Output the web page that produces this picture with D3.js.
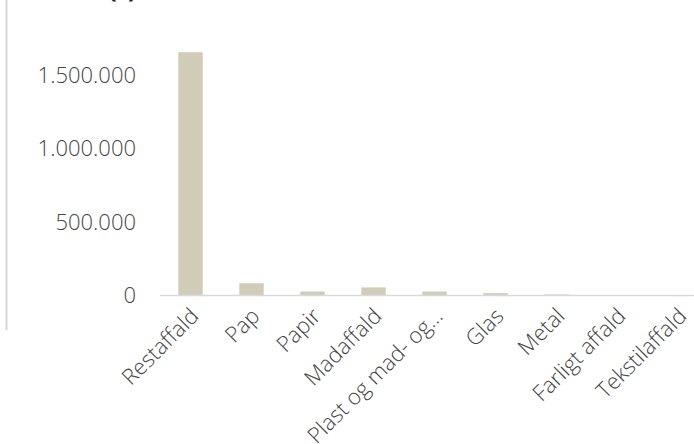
<!DOCTYPE html>
<html>
<head>
<meta charset="utf-8">
<script src="https://cdn.jsdelivr.net/npm/d3@7"></script>
<style>
  body { margin: 0; background: #fff; }
  svg { display: block; }
</style>
</head>
<body>
<div id="container"></div>
<script>
// Data
const categories = ["Restaffald", "Pap", "Papir", "Madaffald", "Plast og mad- og...", "Glas", "Metal", "Farligt affald", "Tekstilaffald"];
const values = [1655000, 83000, 27000, 55000, 27000, 16000, 7000, 1000, 1000];
const yTicks = [0, 500000, 1000000, 1500000];

const width = 694;
const height = 444;

const svg = d3.select("#container")
  .append("svg")
  .attr("width", width)
  .attr("height", height);

// left border line
svg.append("line")
  .attr("x1", 6.5).attr("x2", 6.5)
  .attr("y1", 0).attr("y2", 330)
  .attr("stroke", "#d3d6da")
  .attr("stroke-width", 2);

// title, mostly cut off at the top (as in the reference)
svg.append("text")
  .attr("x", 108)
  .attr("y", -3)
  .attr("font-family", "Open Sans, sans-serif")
  .attr("font-weight", "bold")
  .attr("font-size", 26)
  .attr("fill", "#222")
  .text("(t)");

const xScale = d3.scaleBand()
  .domain(categories)
  .range([160, 709])
  .paddingInner(0.6)
  .paddingOuter(0.3);

const yScale = d3.scaleLinear()
  .domain([0, 1500000])
  .range([295.5, 75]);

const fmt = d => d3.format(",")(d).replace(/,/g, ".");

// y labels
svg.append("g")
  .selectAll("text")
  .data(yTicks)
  .enter()
  .append("text")
  .attr("x", 136)
  .attr("y", d => yScale(d))
  .attr("dy", "0.35em")
  .attr("text-anchor", "end")
  .attr("font-family", "Open Sans, sans-serif")
  .attr("font-weight", 350)
  .attr("font-size", 22)
  .attr("fill", "#454545")
  .text(fmt);

// bars
svg.append("g")
  .selectAll("rect")
  .data(values)
  .enter()
  .append("rect")
  .attr("x", (d, i) => xScale(categories[i]))
  .attr("width", xScale.bandwidth())
  .attr("y", d => yScale(d))
  .attr("height", d => yScale(0) - yScale(d))
  .attr("fill", "#d1ccb8");

// baseline
svg.append("line")
  .attr("x1", 160).attr("x2", width)
  .attr("y1", yScale(0)).attr("y2", yScale(0))
  .attr("stroke", "#d9d9d9")
  .attr("stroke-width", 1.5);

// x labels, rotated
svg.append("g")
  .selectAll("text")
  .data(categories)
  .enter()
  .append("text")
  .attr("transform", d => "translate(" + (xScale(d) + xScale.bandwidth() / 2 + 4) + "," + 312 + ") rotate(-45)")
  .attr("text-anchor", "end")
  .attr("dy", "0.35em")
  .attr("font-family", "Open Sans, sans-serif")
  .attr("font-weight", 350)
  .attr("font-size", 22)
  .attr("fill", "#454545")
  .text(d => d);
</script>
</body>
</html>
